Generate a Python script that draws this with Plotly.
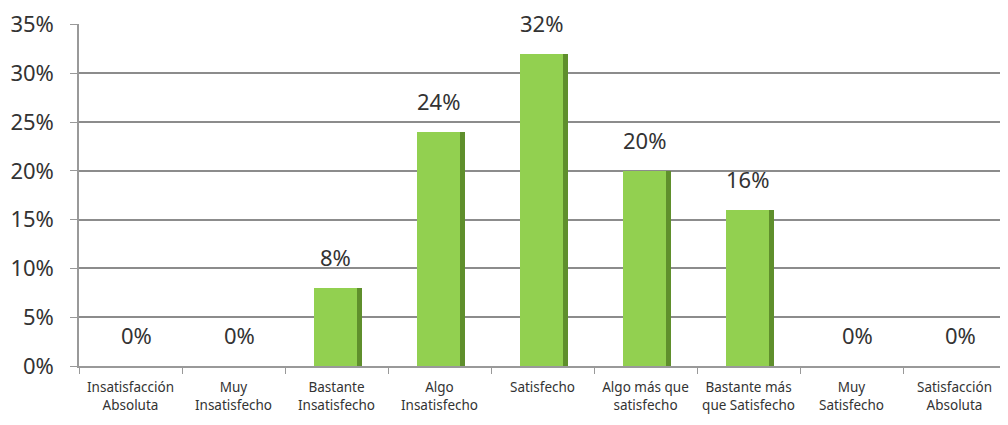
import plotly.graph_objects as go

categories = ["Insatisfacción<br>Absoluta", "Muy<br>Insatisfecho", "Bastante<br>Insatisfecho",
              "Algo<br>Insatisfecho", "Satisfecho", "Algo más que<br>satisfecho",
              "Bastante más<br>que Satisfecho", "Muy<br>Satisfecho", "Satisfacción<br>Absoluta"]
values = [0, 0, 8, 24, 32, 20, 16, 0, 0]
labels = ["0%", "0%", "8%", "24%", "32%", "20%", "16%", "0%", "0%"]
y_ticks = [0, 5, 10, 15, 20, 25, 30, 35]
y_tick_text = ["0%", "5%", "10%", "15%", "20%", "25%", "30%", "35%"]

font_family = "Liberation Sans Narrow, Noto Sans, Liberation Sans, sans-serif"

fig = go.Figure()
# side (shaded) face
fig.add_trace(go.Bar(x=categories, y=values, width=0.46, offset=-0.215,
                     marker=dict(color="#5f8f2c", line=dict(width=0)),
                     hoverinfo="skip", showlegend=False))
# front face
fig.add_trace(go.Bar(x=categories, y=values, width=0.41, offset=-0.215,
                     marker=dict(color="#92d050", line=dict(width=0)),
                     showlegend=False))

for c, v, t in zip(categories, values, labels):
    shift = 6 if v == 0 else -1
    fig.add_annotation(x=c, y=v, text=t, showarrow=False, xshift=shift, yshift=31,
                       yanchor="middle", font=dict(size=22, color="#333333", family=font_family))

fig.update_layout(
    width=1000, height=417,
    margin=dict(l=71, r=2, t=16, b=59),
    paper_bgcolor="white", plot_bgcolor="white",
    barmode="overlay", bargap=0,
    font=dict(family=font_family, color="#333333"),
    xaxis=dict(type="category", tickson="boundaries", ticks="outside", ticklen=6,
               tickcolor="#999999", showline=True, linecolor="#999999", linewidth=1.5,
               showgrid=False, tickfont=dict(size=13.5, color="#333333"),
               ticklabelstandoff=8,
               range=[-0.5, 8.5], automargin=False),
    yaxis=dict(range=[0, 35.05], tickvals=y_ticks, ticktext=y_tick_text,
               showgrid=True, gridcolor="#8c8c8c", gridwidth=1.5,
               showline=True, linecolor="#999999", linewidth=1.5,
               ticks="outside", ticklen=7, tickcolor="#999999",
               ticklabelstandoff=12, tickfont=dict(size=22, color="#333333"),
               zeroline=False, automargin=False),
)

fig.write_html("out.html")
